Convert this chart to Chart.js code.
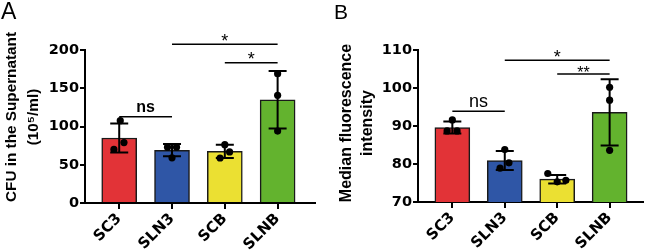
<!DOCTYPE html>
<html>
<head>
<meta charset="utf-8">
<script src="https://cdn.jsdelivr.net/npm/chart.js@4.4.1/dist/chart.umd.min.js"></script>
<style>
  html, body { margin: 0; padding: 0; background: #fff; }
  .panel { position: absolute; top: 0; height: 251px; }
  #pa { left: 0; width: 323px; }
  #pb { left: 323px; width: 324px; }
</style>
</head>
<body>
<div class="panel" id="pa"><canvas id="chartA"></canvas></div>
<div class="panel" id="pb"><canvas id="chartB"></canvas></div>
<script>
const categories = ['SC3', 'SLN3', 'SCB', 'SLNB'];
const barColors = ['#e23337', '#2f56a6', '#ebe032', '#63b32e'];

// Panel A: CFU in the supernatant (10^5/ml)
const cfuMeans = [85, 69, 67.5, 135];
const cfuSd = [19, 8, 8.7, 37.7];
const cfuPoints = [[107.6, 79, 70], [73, 73, 59], [76.2, 66.7, 58.8], [169, 140.8, 94]];
const cfuJitter = [[0.02, 0.09, -0.1], [-0.085, 0.085, 0], [0, 0.09, -0.09], [0, 0, 0]];
const cfuTicks = [0, 50, 100, 150, 200];
const cfuBrackets = [
  { from: 0, to: 1, level: 112.8, label: 'ns' },
  { from: 1, to: 3, level: 207.5, label: '*' },
  { from: 2, to: 3, level: 183.4, label: '*' },
];

// Panel B: median fluorescence intensity
const mfiMeans = [89.6, 80.9, 76.0, 93.6];
const mfiSd = [1.6, 2.5, 1.1, 8.7];
const mfiPoints = [[91.6, 88.7, 88.7], [83.8, 80.3, 78.9], [77.5, 75.3, 75.7], [100.2, 96.8, 83.6]];
const mfiJitter = [[0, -0.1, 0.09], [0, 0.08, -0.09], [-0.18, 0, 0.165], [0, 0, 0]];
const mfiTicks = [70, 80, 90, 100, 110];
const mfiBrackets = [
  { from: 0, to: 1, level: 93.9, label: 'ns' },
  { from: 1, to: 3, level: 107.3, label: '*' },
  { from: 2, to: 3, level: 103.7, label: '**' },
];

function drawPanel(canvasId, cfg) {
  const bars = cfg.means.map((v, i) => ({ x: i, y: v }));
  const dots = [];
  cfg.points.forEach((grp, i) => grp.forEach((v, j) => dots.push({ x: i + cfg.jitter[i][j], y: v })));

  const extras = {
    id: 'panelExtras',
    afterDatasetDraw(chart, args) {
      if (args.index !== 1) return;
      const { x, y } = chart.scales;
      const ctx = chart.ctx;
      ctx.save();
      ctx.strokeStyle = '#000';
      ctx.lineWidth = 2;
      cfg.means.forEach((m, i) => {
        const px = x.getPixelForValue(i);
        const top = y.getPixelForValue(m + cfg.sd[i]);
        const bot = y.getPixelForValue(m - cfg.sd[i]);
        ctx.beginPath();
        ctx.moveTo(px, top); ctx.lineTo(px, bot);
        ctx.moveTo(px - 9, top); ctx.lineTo(px + 9, top);
        ctx.moveTo(px - 9, bot); ctx.lineTo(px + 9, bot);
        ctx.stroke();
      });
      ctx.restore();
    },
    afterDraw(chart) {
      const { x, y } = chart.scales;
      const ctx = chart.ctx;
      ctx.save();
      ctx.fillStyle = '#000';
      ctx.strokeStyle = '#000';
      ctx.lineWidth = 1.6;
      ctx.textAlign = 'center';
      ctx.textBaseline = 'alphabetic';
      cfg.brackets.forEach((b) => {
        const x1 = x.getPixelForValue(b.from);
        const x2 = x.getPixelForValue(b.to);
        const py = y.getPixelForValue(b.level);
        ctx.beginPath();
        ctx.moveTo(x1, py); ctx.lineTo(x2, py);
        ctx.stroke();
        if (b.label === 'ns') {
          ctx.font = cfg.nsFont;
          ctx.fillText(b.label, (x1 + x2) / 2, py - 4.5);
        } else {
          ctx.font = b.label.length > 1 ? '16px "Liberation Sans"' : '18px "Liberation Sans"';
          ctx.fillText(b.label, (x1 + x2) / 2, py + (b.label.length > 1 ? 4 : 2.5));
        }
      });

      // panel letter
      ctx.textAlign = 'left';
      ctx.font = cfg.letterFont;
      ctx.fillText(cfg.letter, cfg.letterX, 18.5);

      // rotated y-axis title
      ctx.font = cfg.titleFont;
      ctx.textAlign = 'center';
      ctx.textBaseline = 'middle';
      cfg.title.forEach((line, k) => {
        ctx.save();
        ctx.translate(cfg.titleX[k], cfg.titleY);
        ctx.rotate(-Math.PI / 2);
        ctx.fillText(line, 0, 0);
        ctx.restore();
      });
      ctx.restore();
    },
  };

  return new Chart(document.getElementById(canvasId), {
    type: 'bar',
    data: {
      datasets: [
        {
          type: 'scatter',
          data: dots,
          pointRadius: 3.6,
          pointHoverRadius: 3.6,
          pointBackgroundColor: '#000',
          pointBorderWidth: 0,
        },
        {
          type: 'bar',
          data: bars,
          backgroundColor: barColors,
          borderColor: '#1a1a1a',
          borderWidth: 1.5,
          barThickness: 35,
        },
      ],
    },
    options: {
      responsive: true,
      maintainAspectRatio: false,
      animation: false,
      events: [],
      layout: { padding: { top: 50, right: cfg.padRight, left: 0, bottom: 0 } },
      plugins: { legend: { display: false }, tooltip: { enabled: false } },
      scales: {
        x: {
          type: 'linear',
          offset: false,
          min: cfg.xMin,
          max: cfg.xMax,
          afterBuildTicks: (s) => { s.ticks = categories.map((c, i) => ({ value: i })); },
          afterFit: (s) => { s.height = cfg.xHeight; s.paddingLeft = 0; s.paddingRight = 0; },
          ticks: {
            callback: (v) => categories[v],
            autoSkip: false,
            minRotation: 45,
            maxRotation: 45,
            padding: 1,
            color: '#000',
            font: { family: 'DejaVu Sans', weight: 'bold', size: 15 },
          },
          grid: { display: true, offset: false, drawOnChartArea: false, drawTicks: true, tickLength: 6, color: '#000', lineWidth: 2 },
          border: { display: true, color: '#000', width: 2 },
        },
        y: {
          min: cfg.ticks[0],
          max: cfg.ticks[cfg.ticks.length - 1],
          afterBuildTicks: (s) => { s.ticks = cfg.ticks.map((v) => ({ value: v })); },
          afterFit: (s) => { s.width = cfg.yWidth; s.paddingTop = 0; s.paddingBottom = 0; },
          ticks: {
            padding: 1,
            color: '#000',
            font: { family: 'DejaVu Sans', weight: 'bold', size: 14.5 },
          },
          grid: { display: true, drawOnChartArea: false, drawTicks: true, tickLength: 5, color: '#000', lineWidth: 2 },
          border: { display: true, color: '#000', width: 2 },
        },
      },
    },
    plugins: [extras],
  });
}

drawPanel('chartA', {
  means: cfuMeans, sd: cfuSd, points: cfuPoints, jitter: cfuJitter, ticks: cfuTicks, brackets: cfuBrackets,
  xMin: -0.648, xMax: 3.708, yWidth: 85, xHeight: 48, padRight: 8,
  letter: 'A', letterX: 1, letterFont: '23px "Liberation Sans"',
  nsFont: 'bold 16px "Liberation Sans"',
  title: ['CFU in the Supernatant', '(10⁵/ml)'],
  titleFont: 'bold 15.3px "Liberation Sans"', titleX: [12, 34], titleY: 117,
});

drawPanel('chartB', {
  means: mfiMeans, sd: mfiSd, points: mfiPoints, jitter: mfiJitter, ticks: mfiTicks, brackets: mfiBrackets,
  xMin: -0.655, xMax: 3.644, yWidth: 95, xHeight: 49, padRight: 2,
  letter: 'B', letterX: 11, letterFont: '21px "Liberation Sans"',
  nsFont: '18px "Liberation Sans"',
  title: ['Median fluorescence', 'intensity'],
  titleFont: 'bold 16px "Liberation Sans"', titleX: [24, 45], titleY: 123,
});
</script>
</body>
</html>
